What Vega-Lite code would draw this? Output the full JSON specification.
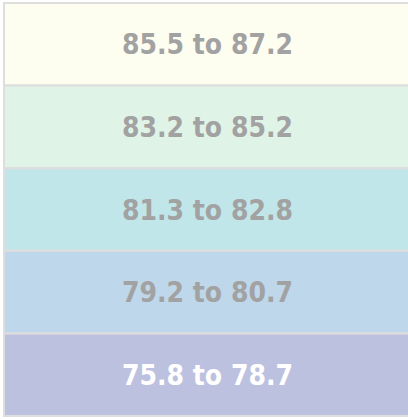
{
  "$schema": "https://vega.github.io/schema/vega-lite/v6.json",
  "width": 405,
  "height": 413,
  "autosize": "none",
  "padding": {"left": 4, "top": 3, "right": 0, "bottom": 3},
  "background": "white",
  "config": {"view": {"stroke": null}},
  "data": {"values": [
    {"label": "85.5 to 87.2"},
    {"label": "83.2 to 85.2"},
    {"label": "81.3 to 82.8"},
    {"label": "79.2 to 80.7"},
    {"label": "75.8 to 78.7"}
  ]},
  "encoding": {
    "y": {"field": "label", "type": "nominal", "sort": null, "axis": null, "scale": {"paddingInner": 0, "paddingOuter": 0}}
  },
  "layer": [
    {
      "mark": {"type": "rect", "stroke": "#dedede", "strokeWidth": 2},
      "encoding": {
        "x": {"datum": 0, "type": "quantitative", "scale": {"domain": [0, 1]}, "axis": null},
        "x2": {"datum": 1},
        "color": {"field": "label", "type": "nominal", "legend": null,
          "scale": {"domain": ["85.5 to 87.2", "83.2 to 85.2", "81.3 to 82.8", "79.2 to 80.7", "75.8 to 78.7"],
                    "range": ["#fefef0", "#e0f3e7", "#c0e6ea", "#bed7ea", "#bdc1e0"]}}
      }
    },
    {
      "mark": {"type": "text", "font": "DejaVu Sans Condensed", "fontWeight": "bold", "fontSize": 28, "baseline": "middle", "align": "center", "dx": 1, "dy": 2},
      "encoding": {
        "text": {"field": "label"},
        "stroke": {"value": null},
        "fill": {"field": "label", "type": "nominal", "legend": null,
          "scale": {"domain": ["85.5 to 87.2", "83.2 to 85.2", "81.3 to 82.8", "79.2 to 80.7", "75.8 to 78.7"],
                    "range": ["#a2a2a2", "#a2a2a2", "#a2a2a2", "#a2a2a2", "#ffffff"]}}
      }
    }
  ]
}
